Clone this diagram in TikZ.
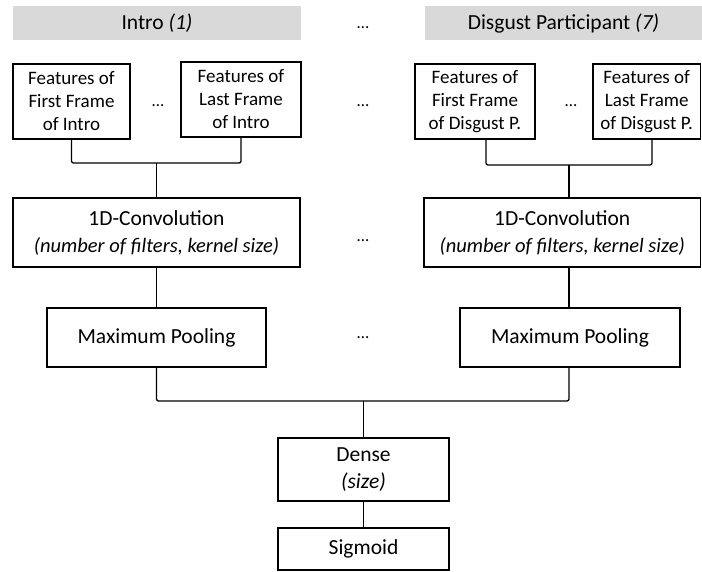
\documentclass[tikz,border=0pt]{standalone}
\usepackage{fontspec}
\setmainfont{Carlito}
\definecolor{headgray}{HTML}{D9D9D9}
\newcommand{\convnote}{{\fontsize{20.5}{27}\selectfont\itshape (number of filters, kernel size)}}
\begin{document}
\begin{tikzpicture}[x=1pt,y=-1pt,
  box/.style={draw=black, line width=1.8pt, inner sep=0pt, align=center,
    font=\fontsize{21.5}{27}\selectfont},
  framebox/.style={box, minimum height=75pt, font=\fontsize{19}{23}\selectfont},
  head/.style={fill=headgray, inner sep=0pt, minimum height=34pt,
    font=\fontsize{21.5}{26}\selectfont},
  link/.style={draw=black, line width=1.3pt, rounded corners=2pt},
  dots/.style={inner sep=0pt, font=\fontsize{17}{20}\selectfont}]
\useasboundingbox (0,0) rectangle (702,571);

% column headers
\node[head, minimum width=288pt] (h1) at (157,23) {Intro \textit{(1)}};
\node[head, minimum width=277pt] (h2) at (563.5,23) {Disgust Participant \textit{(7)}};

% per-frame feature boxes
\node[framebox, minimum width=117pt] (f1) at (71.5,101.5)
  {Features of\\First Frame\\of Intro};
\node[framebox, minimum width=120pt] (f2) at (241,99.5)
  {Features of\\Last Frame\\of Intro};
\node[framebox, minimum width=120pt] (f3) at (475,101.5)
  {Features of\\First Frame\\of Disgust P.};
\node[framebox, minimum width=107.5pt] (f4) at (646.75,101.5)
  {Features of\\Last Frame\\of Disgust P.};

% convolution layers
\node[box, minimum width=287pt, minimum height=69pt] (c1) at (156.5,232.5)
  {1D-Convolution\\\convnote};
\node[box, minimum width=276.5pt, minimum height=69pt] (c2) at (562.25,232.5)
  {1D-Convolution\\\convnote};

% pooling layers
\node[box, minimum width=219pt, minimum height=59pt] (p1) at (156.5,337.5)
  {Maximum Pooling};
\node[box, minimum width=220pt, minimum height=59pt] (p2) at (570,337.5)
  {Maximum Pooling};

% head of the network
\node[box, minimum width=171pt, minimum height=63pt] (d) at (363.5,469.5)
  {Dense\\\textit{(size)}};
\node[box, minimum width=171pt, minimum height=42pt] (s) at (363.5,549)
  {Sigmoid};

% ellipses
\node[dots] (e1) at (158,106) {…};
\node[dots] (e2) at (363,28) {…};
\node[dots] (e3) at (363,106) {…};
\node[dots] (e4) at (363,241) {…};
\node[dots] (e5) at (363,338) {…};
\node[dots] (e6) at (571,106) {…};

% junction points
\coordinate (jl) at (156.5,163);
\coordinate (jr) at (569,165);
\coordinate (jb) at (363.5,401);

% connectors
\draw[link] (f1.south) |- (jl) -| (f2.south);
\draw[link] (jl) -- (c1.north);
\draw[link] ([xshift=11pt]f3.south) |- (jr) -| ([xshift=5.25pt]f4.south);
\draw[link] (jr) -- ([xshift=6.75pt]c2.north);
\draw[link] (c1.south) -- (p1.north);
\draw[link] ([xshift=6.75pt]c2.south) -- ([xshift=-1pt]p2.north);
\draw[link] (p1.south) |- (jb) -| ([xshift=-1pt]p2.south);
\draw[link] (jb) -- (d.north);
\draw[link] (d.south) -- (s.north);
\end{tikzpicture}
\end{document}
